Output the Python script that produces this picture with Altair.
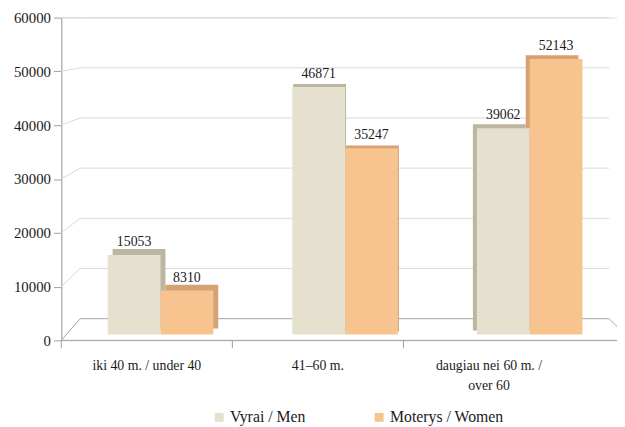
import altair as alt
import pandas as pd

# ---- data ----
categories = ["iki 40 m. / under 40", "41–60 m.", "daugiau nei 60 m. / over 60"]
category_lines = {
    "daugiau nei 60 m. / over 60": ["daugiau nei 60 m. /", "over 60"],
}
series = ["Vyrai / Men", "Moterys / Women"]
men = [15053, 46871, 39062]
women = [8310, 35247, 52143]
y_ticks = [0, 10000, 20000, 30000, 40000, 50000, 60000]

# ---- style ----
face_colors = ["#E6E0CF", "#F7C48F"]
shade_colors = ["#BDB5A1", "#D6A173"]
FONT = "Liberation Serif"
TXT = "#1a1a1a"
W, H = 563, 327
YMAX = 60000
BAND = 107

rows = []
for c, m, w in zip(categories, men, women):
    rows.append({"cat": c, "series": series[0], "value": m})
    rows.append({"cat": c, "series": series[1], "value": w})
bars_df = pd.DataFrame(rows)
grid_df = pd.DataFrame({"v": y_ticks})
cat_df = pd.DataFrame({"cat": categories})

# ---- front frame (axes, back wall) ----
back_expr = f"{YMAX} * (1 - 305 * (1 - datum.v / {YMAX}) / 327)"
yfront = alt.Scale(domain=[0, YMAX], nice=False)
y_axis = alt.Axis(title=None, values=y_ticks, tickSize=8, grid=False, format="d",
                  domainColor="#A0A0A0", tickColor="#A0A0A0", labelFont=FONT,
                  labelFontSize=15, labelColor=TXT, labelPadding=3)

label_expr = " : ".join(
    [f"datum.label == '{k}' ? {v!r}" for k, v in category_lines.items()] + ["datum.label"]
)
x_front = alt.X("cat:N", sort=categories,
                scale=alt.Scale(domain=categories, range=[0, 520], paddingInner=0, paddingOuter=0),
                axis=alt.Axis(title=None, ticks=False, tickSize=0, domain=False,
                              labelFont=FONT, labelFontSize=14, labelColor=TXT,
                              labelPadding=19, labelAngle=0, labelLineHeight=20,
                              labelExpr=label_expr))

grid_base = alt.Chart(grid_df).transform_calculate(u=back_expr)
gcolor = alt.condition(alt.datum.v == 0, alt.value("#A6A6A6"), alt.value("#D9D9D9"))

axis_layer = alt.Chart(bars_df).mark_point(opacity=0).encode(
    x=x_front, y=alt.Y("value:Q", scale=yfront, axis=y_axis),
)
back_lines = grid_base.mark_rule(strokeWidth=1).encode(
    x=alt.value(19), x2=alt.value(555),
    y=alt.Y("u:Q", scale=yfront, axis=y_axis), color=gcolor,
)
diag_lines = grid_base.mark_rule(strokeWidth=1).encode(
    x=alt.value(0), x2=alt.value(19),
    y=alt.Y("v:Q", scale=yfront, axis=y_axis), y2="u:Q", color=gcolor,
)
floor_diag = grid_base.transform_filter(alt.datum.v == 0).mark_rule(strokeWidth=1, color="#A6A6A6").encode(
    x=alt.value(555), x2=alt.value(577),
    y=alt.Y("u:Q", scale=yfront, axis=y_axis), y2="v:Q",
)
front_base = grid_base.transform_filter(alt.datum.v == 0).mark_rule(strokeWidth=1, color="#A0A0A0").encode(
    x=alt.value(0), x2=alt.value(W),
    y=alt.Y("v:Q", scale=yfront, axis=y_axis),
)
x_ticks = alt.Chart(cat_df).mark_rule(strokeWidth=1, color="#A0A0A0").encode(
    x=alt.X("cat:N", sort=categories, bandPosition=0,
            scale=alt.Scale(domain=categories, range=[0, 520], paddingInner=0, paddingOuter=0)),
    y=alt.value(H), y2=alt.value(H + 8),
)

front_group = alt.layer(axis_layer, back_lines, diag_lines, floor_diag, front_base, x_ticks)

# ---- bars ----
x_bar = alt.X("cat:N", sort=categories,
              scale=alt.Scale(domain=categories, range=[7, 568], paddingInner=0.428, paddingOuter=0.214),
              axis=None)
y_bar = alt.Y("value:Q", scale=alt.Scale(domain=[0, YMAX], range=[321, 0], nice=False), axis=None)


def xoff(dx=0):
    return alt.XOffset("series:N", sort=series,
                       scale=alt.Scale(domain=series, range=[dx, BAND + dx]))


def shadow(cat, dx, dy):
    return alt.Chart(bars_df).transform_filter(alt.datum.cat == cat).mark_bar(yOffset=dy).encode(
        x=x_bar, xOffset=xoff(dx), y=y_bar,
        color=alt.Color("series:N", sort=series,
                        scale=alt.Scale(domain=series, range=shade_colors), legend=None),
    )


shadows = [shadow(categories[0], 5, -6), shadow(categories[1], 1, -3), shadow(categories[2], -4, -4)]

bars = alt.Chart(bars_df).mark_bar().encode(
    x=x_bar, xOffset=xoff(0), y=y_bar,
    color=alt.Color("series:N", sort=series,
                    scale=alt.Scale(domain=series, range=face_colors),
                    legend=alt.Legend(title=None, orient="none", direction="horizontal",
                                      legendX=152, legendY=397, symbolType="square",
                                      symbolSize=81, symbolStrokeWidth=0, symbolOpacity=1,
                                      labelFont=FONT, labelFontSize=16, labelColor=TXT,
                                      labelOffset=3, columnPadding=66)),
)

labels = alt.Chart(bars_df).mark_text(font=FONT, fontSize=14, dy=-9, baseline="alphabetic", color=TXT).encode(
    x=x_bar, xOffset=xoff(0), y=y_bar, text=alt.Text("value:Q", format="d"),
)

bar_group = alt.layer(*shadows, bars, labels).resolve_scale(color="independent", xOffset="independent")

chart = alt.layer(front_group, bar_group).resolve_scale(
    x="independent", y="independent"
).properties(
    width=W, height=H,
    padding={"left": 54, "top": 7, "right": 0, "bottom": 85},
    autosize=alt.AutoSizeParams(type="none"),
).configure_view(stroke=None).configure(font=FONT)

chart.save("out.html", embed_options={"renderer": "svg", "actions": False})
